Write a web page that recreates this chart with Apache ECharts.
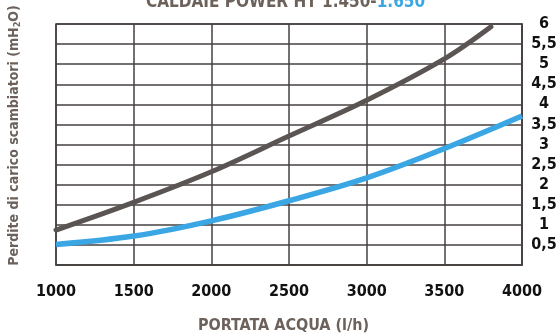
<!DOCTYPE html>
<html>
<head>
<meta charset="utf-8">
<script src="https://cdn.jsdelivr.net/npm/echarts@6/dist/echarts.min.js"></script>
<style>
html,body{margin:0;padding:0;background:#fff;}
#main{width:558px;height:336px;}
</style>
</head>
<body>
<div id="main"></div>
<script>
// Data
var xTicks = [1000, 1500, 2000, 2500, 3000, 3500, 4000];
var yTicks = [0, 0.5, 1, 1.5, 2, 2.5, 3, 3.5, 4, 4.5, 5, 5.5, 6];
var flowGray = [1000, 1500, 2000, 2500, 3000, 3500, 3800];
var lossGray = [0.87, 1.56, 2.32, 3.21, 4.10, 5.13, 5.93];   // 1.450 model
var flowBlue = [1000, 1500, 2000, 2500, 3000, 3500, 4000];
var lossBlue = [0.51, 0.72, 1.10, 1.60, 2.17, 2.90, 3.71];   // 1.650 model
var titleA = 'CALDAIE POWER HT 1.450-';
var titleB = '1.650';
var xName = 'PORTATA ACQUA (l/h)';

var FONT = "'Liberation Sans Narrow', 'DejaVu Sans Condensed', 'Roboto Condensed', sans-serif";
var BROWN = '#6c625b';
var GRID = '#46413f';

function pairs(xs, ys) { return xs.map(function (x, i) { return [x, ys[i]]; }); }

var chart = echarts.init(document.getElementById('main'), null, { renderer: 'canvas' });
chart.setOption({
  animation: false,
  backgroundColor: '#ffffff',
  title: {
    text: '{a|' + titleA + '}{b|' + titleB + '}',
    left: 146,
    top: -5.5,
    padding: 0,
    textStyle: {
      rich: {
        a: { fontFamily: FONT, fontWeight: 'bold', fontSize: 17, color: BROWN, lineHeight: 17 },
        b: { fontFamily: FONT, fontWeight: 'bold', fontSize: 17, color: '#3aa6e4', lineHeight: 17 }
      }
    }
  },
  grid: {
    left: 56, right: 36, top: 24, bottom: 71,
    outerBoundsMode: 'none',
    containLabel: false,
    show: true, borderColor: GRID, borderWidth: 1.5, backgroundColor: 'transparent'
  },
  xAxis: {
    type: 'value',
    min: xTicks[0], max: xTicks[xTicks.length - 1], interval: 500,
    name: xName,
    nameLocation: 'middle',
    nameGap: 53,
    nameTextStyle: { fontFamily: FONT, fontWeight: 'bold', fontSize: 16, color: BROWN, padding: [0, 11, 0, 0] },
    axisLine: { show: true, lineStyle: { color: GRID, width: 1.5 } },
    axisTick: { show: false },
    splitLine: { show: true, lineStyle: { color: GRID, width: 1.5 } },
    axisLabel: {
      fontFamily: FONT, fontWeight: 'bold', fontSize: 16, color: '#111', margin: 19,
      showMinLabel: true, showMaxLabel: true,
      formatter: function (v) { return String(v); }
    }
  },
  yAxis: [{
    type: 'value',
    position: 'right',
    min: yTicks[0], max: yTicks[yTicks.length - 1], interval: 0.5,
    axisLine: { show: true, lineStyle: { color: GRID, width: 1.5 } },
    axisTick: { show: false },
    splitLine: { show: true, lineStyle: { color: GRID, width: 1.5 } },
    axisLabel: {
      fontFamily: FONT, fontWeight: 'bold', fontSize: 16, color: '#111',
      align: 'center', margin: 22, showMaxLabel: true,
      formatter: function (v) { return v === 0 ? '' : String(v).replace('.', ','); }
    }
  }, {
    type: 'value',
    position: 'left',
    min: yTicks[0], max: yTicks[yTicks.length - 1], interval: 0.5,
    name: '{n|Perdite di carico scambiatori (mH}{s|2}{n|O)}',
    nameLocation: 'middle',
    nameGap: 34,
    nameTextStyle: {
      padding: [0, 0, 0, 18],
      rich: {
        n: { fontFamily: FONT, fontWeight: 'bold', fontSize: 14, color: BROWN, lineHeight: 16, verticalAlign: 'middle' },
        s: { fontFamily: FONT, fontWeight: 'bold', fontSize: 9, color: BROWN, lineHeight: 16, verticalAlign: 'bottom', padding: [5, 0, 0, 0] }
      }
    },
    axisLine: { show: false },
    axisTick: { show: false },
    axisLabel: { show: false },
    splitLine: { show: false }
  }],
  series: [{
    type: 'line',
    data: pairs(flowGray, lossGray),
    smooth: 0.35,
    symbol: 'none',
    clip: false,
    lineStyle: { color: '#5a5553', width: 5, cap: 'round' },
    z: 3
  }, {
    type: 'line',
    data: pairs(flowBlue, lossBlue),
    smooth: 0.35,
    symbol: 'none',
    clip: false,
    lineStyle: { color: '#3aa6e4', width: 5.5, cap: 'butt' },
    z: 3
  }]
});
</script>
</body>
</html>
